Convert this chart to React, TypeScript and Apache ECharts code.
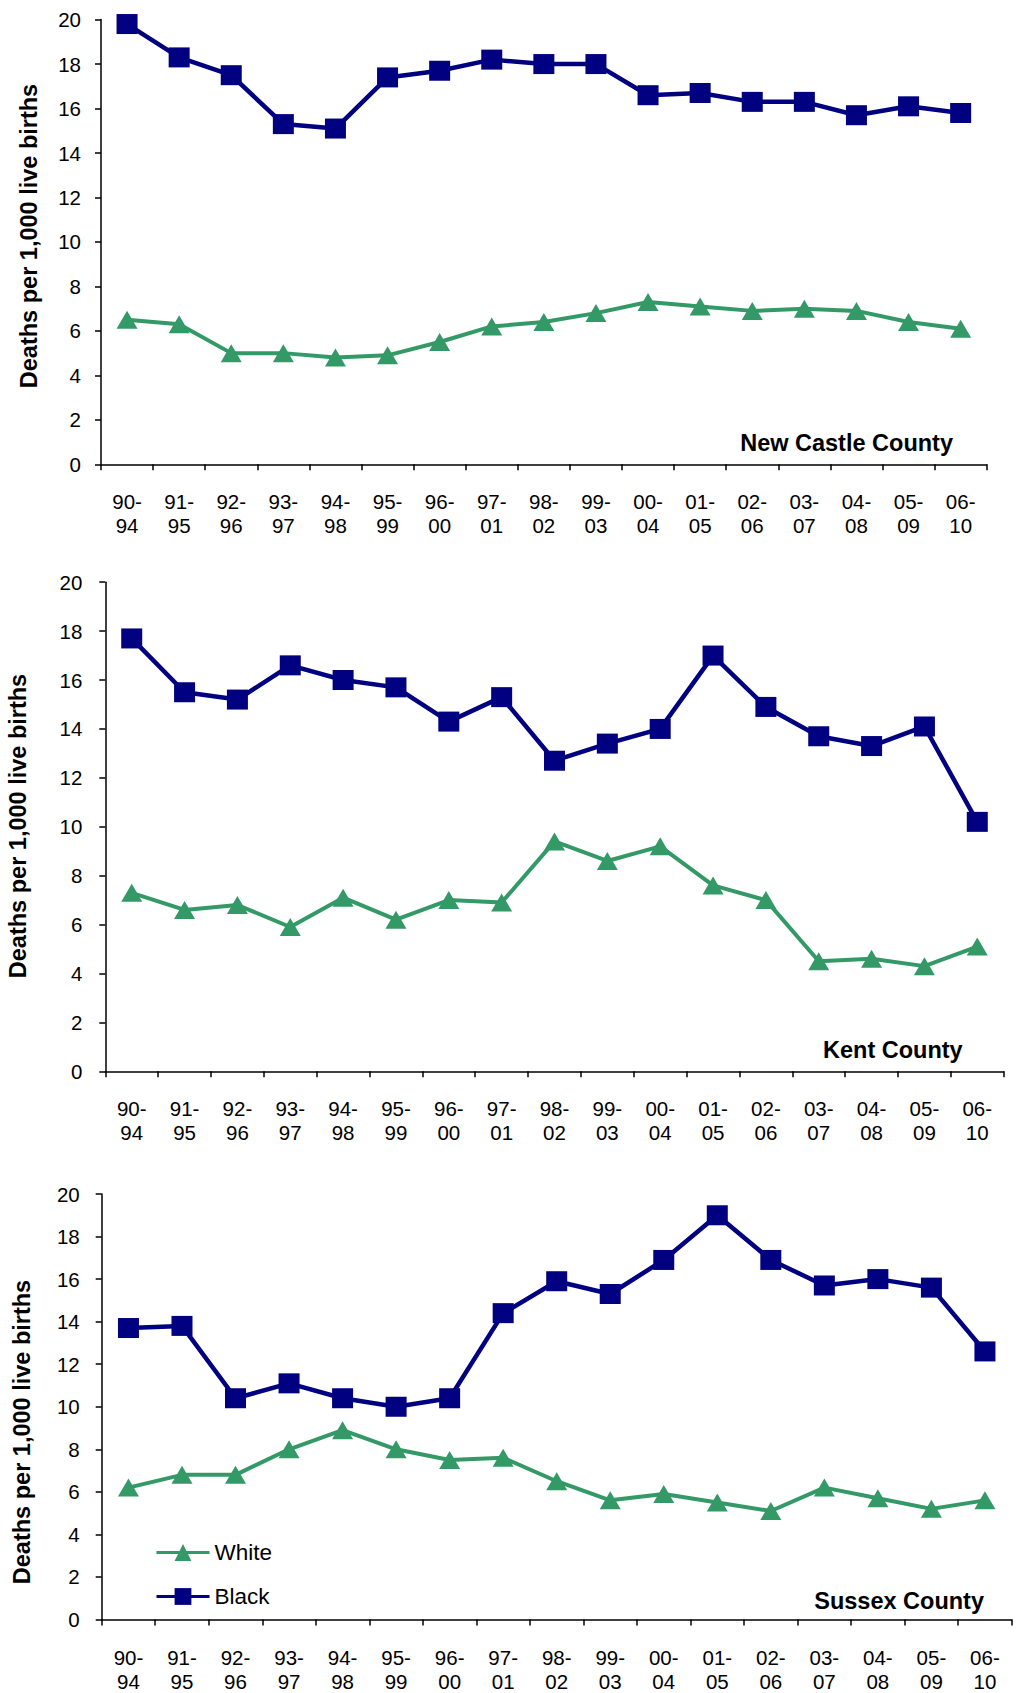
import { useEffect, useRef } from "react";
import * as echarts from "echarts";

const categories = [
  "90-94", "91-95", "92-96", "93-97", "94-98", "95-99", "96-00", "97-01", "98-02",
  "99-03", "00-04", "01-05", "02-06", "03-07", "04-08", "05-09", "06-10",
];

const yTicks = { min: 0, max: 20, interval: 2 };

const newCastleWhite = [6.5, 6.3, 5.0, 5.0, 4.8, 4.9, 5.5, 6.2, 6.4, 6.8, 7.3, 7.1, 6.9, 7.0, 6.9, 6.4, 6.1];
const newCastleBlack = [19.8, 18.3, 17.5, 15.3, 15.1, 17.4, 17.7, 18.2, 18.0, 18.0, 16.6, 16.7, 16.3, 16.3, 15.7, 16.1, 15.8];

const kentWhite = [7.3, 6.6, 6.8, 5.9, 7.1, 6.2, 7.0, 6.9, 9.4, 8.6, 9.2, 7.6, 7.0, 4.5, 4.6, 4.3, 5.1];
const kentBlack = [17.7, 15.5, 15.2, 16.6, 16.0, 15.7, 14.3, 15.3, 12.7, 13.4, 14.0, 17.0, 14.9, 13.7, 13.3, 14.1, 10.2];

const sussexWhite = [6.2, 6.8, 6.8, 8.0, 8.9, 8.0, 7.5, 7.6, 6.5, 5.6, 5.9, 5.5, 5.1, 6.2, 5.7, 5.2, 5.6];
const sussexBlack = [13.7, 13.8, 10.4, 11.1, 10.4, 10.0, 10.4, 14.4, 15.9, 15.3, 16.9, 19.0, 16.9, 15.7, 16.0, 15.6, 12.6];

const countyNames = ["New Castle County", "Kent County", "Sussex County"];
const yAxisTitle = "Deaths per 1,000 live births";
const seriesNames = ["White", "Black"];

const WHITE_COLOR = "#339966";
const BLACK_COLOR = "#000080";
const FONT = "'Liberation Sans', Arial, sans-serif";

const panels = [
  {
    grid: { left: 101, top: 19.6, width: 885.7, height: 444.7 },
    white: newCastleWhite, black: newCastleBlack,
    title: { x: 953, y: 443 }, yTitle: { x: 29, y: 236 },
    yLabelMargin: 20,
  },
  {
    grid: { left: 105.3, top: 582.2, width: 898.4, height: 489.1 },
    white: kentWhite, black: kentBlack,
    title: { x: 962.7, y: 1050 }, yTitle: { x: 18, y: 826 },
    yLabelMargin: 23,
  },
  {
    grid: { left: 101.7, top: 1194, width: 910, height: 430.3 },
    white: sussexWhite, black: sussexBlack,
    title: { x: 984, y: 1601 }, yTitle: { x: 22, y: 1432 },
    yLabelMargin: 22,
  },
];

export default function App() {
  const ref = useRef<HTMLDivElement>(null);

  useEffect(() => {
    const chart = echarts.init(ref.current!, null, { renderer: "svg" });

    const grids = panels.map((p) => ({ ...p.grid, containLabel: false }));

    const xAxes = panels.map((p, i) => ({
      type: "category",
      gridIndex: i,
      data: categories,
      boundaryGap: true,
      axisLine: { show: true, lineStyle: { color: "#000", width: 1.5 } },
      axisTick: { show: true, interval: 0, length: 6, lineStyle: { color: "#000", width: 1.5 } },
      axisLabel: {
        interval: 0,
        margin: 25.5,
        fontSize: 20.5,
        lineHeight: 24,
        color: "#000",
        fontFamily: FONT,
        formatter: (v: string) => v.replace("-", "-\n"),
      },
      splitLine: { show: false },
    }));

    const yAxes = panels.map((p, i) => ({
      type: "value",
      gridIndex: i,
      min: yTicks.min,
      max: yTicks.max,
      interval: yTicks.interval,
      axisLine: { show: true, lineStyle: { color: "#000", width: 1.5 } },
      axisTick: { show: true, length: 6, lineStyle: { color: "#000", width: 1.5 } },
      axisLabel: { margin: p.yLabelMargin, fontSize: 20.5, color: "#000", fontFamily: FONT },
      splitLine: { show: false },
    }));

    const series: any[] = [];
    panels.forEach((p, i) => {
      series.push({
        name: seriesNames[0],
        type: "line",
        xAxisIndex: i,
        yAxisIndex: i,
        data: p.white,
        symbol: "triangle",
        symbolSize: [21, 18],
        lineStyle: { color: WHITE_COLOR, width: 4 },
        itemStyle: { color: WHITE_COLOR },
        z: 2,
      });
      series.push({
        name: seriesNames[1],
        type: "line",
        xAxisIndex: i,
        yAxisIndex: i,
        data: p.black,
        symbol: "rect",
        symbolSize: [21, 20],
        lineStyle: { color: BLACK_COLOR, width: 4.5 },
        itemStyle: { color: BLACK_COLOR },
        z: 3,
      });
    });

    const graphics: any[] = [];
    panels.forEach((p, i) => {
      graphics.push({
        type: "text",
        x: p.title.x,
        y: p.title.y,
        style: {
          text: countyNames[i],
          fontSize: 23.5,
          fontWeight: "bold",
          fontFamily: FONT,
          fill: "#000",
          textAlign: "right",
          textVerticalAlign: "middle",
        },
      });
      graphics.push({
        type: "text",
        x: p.yTitle.x,
        y: p.yTitle.y,
        rotation: Math.PI / 2,
        style: {
          text: yAxisTitle,
          fontSize: 23.5,
          fontWeight: "bold",
          fontFamily: FONT,
          fill: "#000",
          textAlign: "center",
          textVerticalAlign: "middle",
        },
      });
    });

    chart.setOption({
      animation: false,
      backgroundColor: "#fff",
      textStyle: { fontFamily: FONT },
      grid: grids,
      xAxis: xAxes,
      yAxis: yAxes,
      legend: {
        data: seriesNames,
        orient: "vertical",
        left: 155,
        top: 1541,
        padding: 0,
        itemWidth: 53,
        itemHeight: 21,
        itemGap: 21,
        lineStyle: { width: 3 },
        textStyle: { fontSize: 22.5, color: "#000", fontFamily: FONT, lineHeight: 22 },
      },
      series,
      graphic: graphics,
    });

    return () => chart.dispose();
  }, []);

  return (
    <div
      ref={ref}
      style={{ position: "absolute", left: 0, top: 0, width: 1017, height: 1693, background: "#fff" }}
    />
  );
}
